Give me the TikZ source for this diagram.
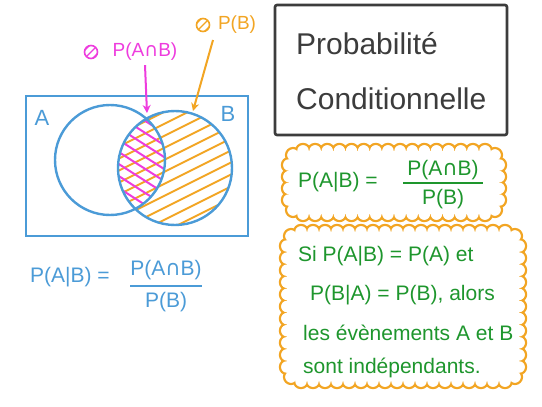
\documentclass[tikz,border=0pt]{standalone}
\usepackage{fontspec}
\setmainfont{Liberation Sans}
\newfontfamily\symf{DejaVu Sans}
\usetikzlibrary{arrows.meta,calc}
\definecolor{vblue}{RGB}{75,155,215}
\definecolor{vpink}{RGB}{238,60,222}
\definecolor{vorange}{RGB}{242,165,35}
\definecolor{vgreen}{RGB}{30,150,45}
\definecolor{vdark}{RGB}{60,60,60}
\newcommand{\capw}{{\symf ∩}}
% scalloped border: #1 x1, #2 y1, #3 x2, #4 y2
\newcommand{\sbdot}[2]{%
  \ifnum\sbpass=1 \draw[vorange, line width=2.4pt] (#1,#2) circle (7pt);%
  \else \fill[white] (#1,#2) circle (5.8pt);\fi}
\newcommand{\scallopbox}[4]{%
  \def\sbR{14}%
  \pgfmathsetmacro\sbW{#3-#1-2*\sbR}%
  \pgfmathsetmacro\sbH{#4-#2-2*\sbR}%
  \pgfmathtruncatemacro\sbnx{max(1,round(\sbW/12))}%
  \pgfmathtruncatemacro\sbny{max(1,round(\sbH/12))}%
  \foreach \sbp in {1,2} {%
    \xdef\sbpass{\sbp}%
    \foreach \i in {0,...,\sbnx} {%
      \pgfmathsetmacro\xx{#1+\sbR+\i*\sbW/\sbnx}%
      \sbdot{\xx}{#2}\sbdot{\xx}{#4}}%
    \foreach \j in {0,...,\sbny} {%
      \pgfmathsetmacro\yy{#2+\sbR+\j*\sbH/\sbny}%
      \sbdot{#1}{\yy}\sbdot{#3}{\yy}}%
    \pgfmathsetmacro\dd{\sbR*(1-0.7071)}%
    \pgfmathsetmacro\ax{#1+\dd}\pgfmathsetmacro\bx{#3-\dd}%
    \pgfmathsetmacro\ay{#2+\dd}\pgfmathsetmacro\by{#4-\dd}%
    \sbdot{\ax}{\ay}\sbdot{\bx}{\ay}\sbdot{\ax}{\by}\sbdot{\bx}{\by}%
  }%
  \fill[white, rounded corners=14pt] (#1,#2) rectangle (#3,#4);%
}
\tikzset{
  bluebox/.style={draw=vblue, line width=2.4pt, minimum width=222pt, minimum height=140pt, inner sep=0pt},
  setcirc/.style={draw=vblue, line width=2.4pt, circle, inner sep=0pt},
  titlebox/.style={draw=vdark, line width=2.6pt, rounded corners=2pt, minimum width=232pt, minimum height=130pt, inner sep=0pt},
  areanode/.style={inner sep=0pt},
  titletxt/.style={text=vdark, font=\fontsize{30}{33}\selectfont, anchor=west, inner sep=0pt},
  greentxt/.style={text=vgreen, font=\fontsize{21}{24}\selectfont, inner sep=0pt},
  bluetxt/.style={text=vblue, font=\fontsize{21}{24}\selectfont, inner sep=0pt},
  lbltxt/.style={font=\fontsize{19}{22}\selectfont, inner sep=0pt},
  icon/.style={line width=1.6pt, circle, minimum size=13pt, inner sep=0pt},
  hatchO/.style={vorange, line width=2pt},
  hatchP/.style={vpink, line width=2pt},
  arr/.style={line width=2pt, -{Stealth[length=8pt,width=8pt]}},
}
\begin{document}
\begin{tikzpicture}[x=1pt,y=-1pt]
\useasboundingbox[fill=white] (0,0) rectangle (542,407);

% Venn diagram
\node[bluebox] (univ) at (137,166) {};
\begin{scope}
  \clip (175,168) circle (57pt);
  \foreach \c in {60,72,...,360} {
    \draw[hatchO] (100,\c) -- (260,\c-80);
  }
\end{scope}
\begin{scope}
  \clip (110,160) circle (55pt);
  \clip (175,168) circle (57pt);
  \foreach \c in {20,32,...,260} {
    \draw[hatchP] (100,\c) -- (200,\c+64);
  }
\end{scope}
\node[setcirc, minimum size=110pt] (setA) at (110,160) {};
\node[setcirc, minimum size=114pt] (setB) at (175,168) {};
\node[bluetxt, font=\fontsize{22}{24}\selectfont] (labA) at (42,118) {A};
\node[bluetxt, font=\fontsize{22}{24}\selectfont] (labB) at (228,114) {B};

% labels with icons
\node[lbltxt, text=vpink] (pab) at (145,52) {P(A\capw B)};
\node[icon, draw=vpink] (iconP) at (91,52) {};
\begin{scope}
  \clip (91,52) circle (6.5pt);
  \foreach \d in {-4,0,4} \draw[vpink, line width=1.4pt] (84+\d,59+\d) -- (98+\d,45+\d);
\end{scope}
\coordinate (tipP) at (147,113);
\draw[arr, vpink] ([yshift=-4pt]pab.south) -- (tipP);

\node[lbltxt, text=vorange] (pb) at (237,25) {P(B)};
\node[icon, draw=vorange] (iconO) at (203,25) {};
\begin{scope}
  \clip (203,25) circle (6.5pt);
  \foreach \d in {-4,0,4} \draw[vorange, line width=1.4pt] (196+\d,32+\d) -- (210+\d,18+\d);
\end{scope}
\coordinate (startO) at (213,40);
\coordinate (tipO) at (193,111);
\draw[arr, vorange] (startO) -- (tipO);

% blue formula
\node[bluetxt, anchor=west] (bl) at (30,277) {P(A|B) =};
\node[bluetxt] (bnum) at (166,270) {P(A\capw B)};
\node[bluetxt] (bden) at (166,302) {P(B)};
\draw[vblue, line width=2pt] (130,286) -- (202,286);

% title
\node[titlebox] (title) at (391,70) {};
\node[titletxt] (t1) at (296,44) {Probabilité};
\node[titletxt] (t2) at (296,99) {Conditionnelle};

% cloud 1
\node[areanode, minimum width=210pt, minimum height=63pt] (cl1) at (394,182.5) {};
\scallopbox{289}{151}{499}{214}
\node[greentxt, anchor=west] (g1) at (298,182) {P(A|B) =};
\node[greentxt] (g1n) at (443,170) {P(A\capw B)};
\node[greentxt] (g1d) at (443,199) {P(B)};
\draw[vgreen, line width=2pt] (403,183) -- (483,183);

% cloud 2
\node[areanode, minimum width=232pt, minimum height=149pt] (cl2) at (403,306.5) {};
\scallopbox{287}{232}{519}{381}
\node[greentxt, anchor=west] (l1) at (298,256) {Si P(A|B) = P(A) et};
\node[greentxt, anchor=west] (l2) at (310,295) {P(B|A) = P(B), alors};
\node[greentxt, anchor=west] (l3) at (303,333) {les évènements A et B};
\node[greentxt, anchor=west] (l4) at (303,368) {sont indépendants.};
\end{tikzpicture}
\end{document}
